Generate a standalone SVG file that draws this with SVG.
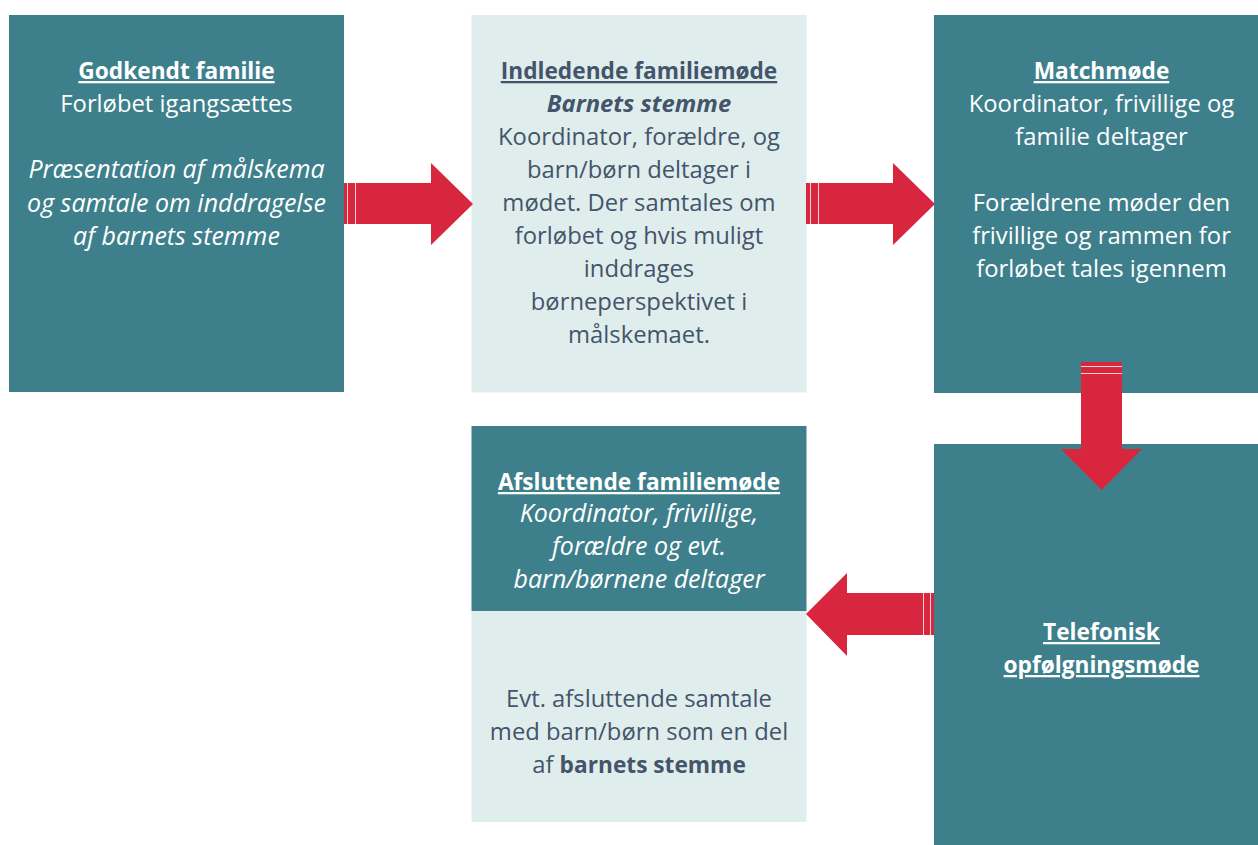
<svg xmlns="http://www.w3.org/2000/svg" width="1258" height="845" viewBox="0 0 1258 845">
<style>
.teal{fill:#3e7f8c}
.light{fill:#dfeeed}
.arrow{fill:#d7263d}
.stripe{stroke:#f3d6da;stroke-width:1}
text{font-family:"Open Sans","Liberation Sans",sans-serif;font-size:23.8px;text-anchor:middle}
.w{fill:#ffffff}
.d{fill:#44546a}
.b{font-weight:bold;font-size:22.7px}
.i{font-style:italic;font-size:25px}
.bi{font-weight:bold;font-style:italic;font-size:23.8px}
.u{text-decoration:underline}
</style>
<rect width="1258" height="845" fill="#ffffff"/>
<g id="node-godkendt">
<rect class="teal" x="9" y="15" width="335" height="377"/>
<text class="w" x="176.5"><tspan class="b u" x="176.5" y="79">Godkendt familie</tspan><tspan x="176.5" y="112">Forløbet igangsættes</tspan><tspan class="i" x="176.5" y="178">Præsentation af målskema</tspan><tspan class="i" x="176.5" y="212">og samtale om inddragelse</tspan><tspan class="i" x="176.5" y="245">af barnets stemme</tspan></text>
</g>
<g id="node-indledende">
<rect class="light" x="471.5" y="15" width="335" height="377.5"/>
<text class="d" x="639"><tspan class="b u" x="639" y="79">Indledende familiemøde</tspan><tspan class="bi" x="639" y="112">Barnets stemme</tspan><tspan x="639" y="145">Koordinator, forældre, og</tspan><tspan x="639" y="178">barn/børn deltager i</tspan><tspan x="639" y="211">mødet. Der samtales om</tspan><tspan x="639" y="244">forløbet og hvis muligt</tspan><tspan x="639" y="277">inddrages</tspan><tspan x="639" y="310">børneperspektivet i</tspan><tspan x="639" y="343">målskemaet.</tspan></text>
</g>
<g id="node-match">
<rect class="teal" x="934" y="15" width="335" height="378"/>
<text class="w" x="1101.5"><tspan class="b u" x="1101.5" y="79">Matchmøde</tspan><tspan x="1101.5" y="112">Koordinator, frivillige og</tspan><tspan x="1101.5" y="145">familie deltager</tspan><tspan x="1101.5" y="211">Forældrene møder den</tspan><tspan x="1101.5" y="244">frivillige og rammen for</tspan><tspan x="1101.5" y="277">forløbet tales igennem</tspan></text>
</g>
<g id="node-telefonisk">
<rect class="teal" x="934" y="444" width="335" height="410"/>
<text class="w b u" x="1101.5"><tspan x="1101.5" y="640">Telefonisk</tspan><tspan x="1101.5" y="673">opfølgningsmøde</tspan></text>
</g>
<g id="node-afsluttende">
<rect class="teal" x="471.5" y="426" width="335" height="185"/>
<rect class="light" x="471.5" y="611" width="335" height="211"/>
<text class="w" x="639"><tspan class="b u" x="639" y="490">Afsluttende familiemøde</tspan><tspan class="i" x="639" y="522">Koordinator, frivillige,</tspan><tspan class="i" x="639" y="555">forældre og evt.</tspan><tspan class="i" x="639" y="588">barn/børnene deltager</tspan></text>
<text class="d" x="639"><tspan x="639" y="707">Evt. afsluttende samtale</tspan><tspan x="639" y="740">med barn/børn som en del</tspan><tspan x="639" y="773">af <tspan class="b">barnets stemme</tspan></tspan></text>
</g>
<g id="connectors">
<g id="arrow-1">
<polygon class="arrow" points="344,183 431,183 431,163 473,204 431,245 431,224 344,224"/>
<line class="stripe" x1="347.5" y1="183" x2="347.5" y2="224"/>
<line class="stripe" x1="355.5" y1="183" x2="355.5" y2="224"/>
</g>
<g id="arrow-2">
<polygon class="arrow" points="806,183 893,183 893,163 935,204 893,245 893,224 806,224"/>
<line class="stripe" x1="810.5" y1="183" x2="810.5" y2="224"/>
<line class="stripe" x1="818.5" y1="183" x2="818.5" y2="224"/>
</g>
<g id="arrow-3">
<polygon class="arrow" points="1081,362 1122,362 1122,449 1142,449 1101.5,490 1061,449 1081,449"/>
<line class="stripe" x1="1081" y1="366.5" x2="1122" y2="366.5"/>
<line class="stripe" x1="1081" y1="373.5" x2="1122" y2="373.5"/>
</g>
<g id="arrow-4">
<polygon class="arrow" points="934,593 847,593 847,573 806,614 847,656 847,635 934,635"/>
<line class="stripe" x1="930.5" y1="593" x2="930.5" y2="635"/>
<line class="stripe" x1="923.5" y1="593" x2="923.5" y2="635"/>
</g>
</g>
</svg>
